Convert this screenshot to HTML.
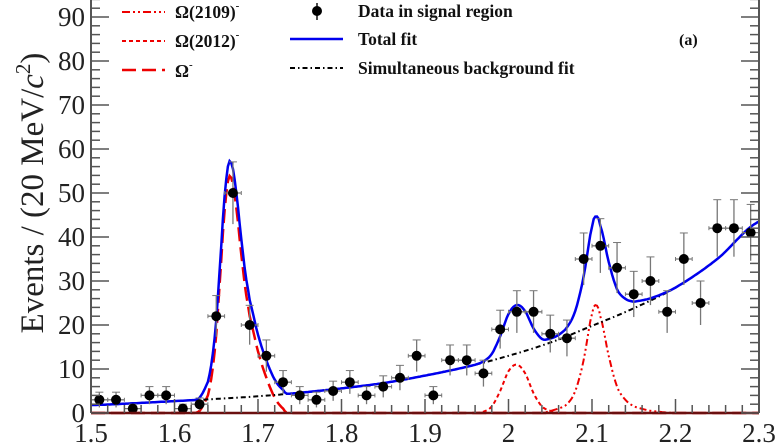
<!DOCTYPE html>
<html><head><meta charset="utf-8"><style>
body{margin:0;background:#fff}
svg{display:block;font-family:"Liberation Serif",serif}
</style></head><body>
<svg id="chart" width="784" height="443" viewBox="0 0 784 443">
<g id="plot"></g>
<g id="axes"></g>
<text transform="translate(43,193) rotate(-90)" text-anchor="middle" font-size="33" fill="#222">Events / (20 MeV/<tspan font-style="italic">c</tspan><tspan font-size="21" dy="-13">2</tspan><tspan dy="13">)</tspan></text>
<g font-size="17.5" font-weight="bold" fill="#111">
 <g><line x1="122" x2="165" y1="12" y2="12" stroke="#e00" stroke-width="2" stroke-dasharray="8,3,2,3,2,3"/><text x="175" y="18">Ω(2109)<tspan font-size="11" dy="-9">-</tspan></text></g>
 <g><line x1="122" x2="165" y1="41" y2="41" stroke="#e00" stroke-width="2" stroke-dasharray="4,3"/><text x="175" y="47">Ω(2012)<tspan font-size="11" dy="-9">-</tspan></text></g>
 <g><line x1="122" x2="165" y1="70" y2="70" stroke="#e00" stroke-width="2.5" stroke-dasharray="14,6"/><text x="175" y="77">Ω<tspan font-size="11" dy="-9">-</tspan></text></g>
 <g><line x1="317" x2="317" y1="3" y2="20" stroke="#111" stroke-width="1.5"/><circle cx="317" cy="11" r="5" fill="#000"/><text x="358" y="17">Data in signal region</text></g>
 <g><line x1="290" x2="343" y1="39" y2="39" stroke="#0000ee" stroke-width="2.5"/><text x="358" y="45">Total fit</text></g>
 <g><line x1="290" x2="343" y1="68" y2="68" stroke="#000" stroke-width="2" stroke-dasharray="5,3,1.5,3"/><text x="358" y="74">Simultaneous background fit</text></g>
 <text x="679" y="45" font-size="16">(a)</text>
</g>
</svg>
<script>
const binCenters=[1.51,1.53,1.55,1.57,1.59,1.61,1.63,1.65,1.67,1.69,1.71,1.73,1.75,1.77,1.79,1.81,1.83,1.85,1.87,1.89,1.91,1.93,1.95,1.97,1.99,2.01,2.03,2.05,2.07,2.09,2.11,2.13,2.15,2.17,2.19,2.21,2.23,2.25,2.27,2.29];
const counts=[3,3,1,4,4,1,2,22,50,20,13,7,4,3,5,7,4,6,8,13,4,12,12,9,19,23,23,18,17,35,38,33,27,30,23,35,25,42,42,41];
const bgX=[1.5,1.55,1.6,1.65,1.7,1.75,1.8,1.85,1.9,1.95,2.0,2.05,2.1,2.15,2.2,2.25,2.3];
const bgY=[1.8,2.2,2.7,3.2,3.8,4.6,5.6,6.8,8.5,10.5,13,16,19.8,23.8,28.5,35,43.5];
const omX=[1.62,1.63,1.64,1.645,1.65,1.655,1.66,1.665,1.67,1.675,1.68,1.685,1.69,1.70,1.71,1.72,1.73,1.735];
const omY=[0,0.5,4,9,18,32,46,53.5,52,45,36,28,22,14,8,3.5,1,0];
const o2012X=[1.96,1.97,1.98,1.99,2.0,2.01,2.02,2.03,2.04,2.05,2.06];
const o2012Y=[0,0.3,1.5,5,9.5,11,9,4.5,1.5,0.5,0];
const o2109X=[2.04,2.06,2.07,2.08,2.09,2.10,2.105,2.11,2.12,2.13,2.14,2.15,2.17,2.2];
const o2109Y=[0,1,2,5,12,22.5,24.5,22,13,6,3,1.5,0.5,0];
const xTicks=[1.5,1.6,1.7,1.8,1.9,2,2.1,2.2,2.3];
const yTicks=[0,10,20,30,40,50,60,70,80,90];

const X0=91,X1=759,Y0=413,YS=4.4;
const sx=v=>X0+(v-1.5)/0.8*(X1-X0);
const sy=v=>Y0-v*YS;
const NS='http://www.w3.org/2000/svg';
function mk(tag,attrs,parent){const e=document.createElementNS(NS,tag);for(const k in attrs)e.setAttribute(k,attrs[k]);parent.appendChild(e);return e;}
function interp(xs,ys,x){
  if(x<=xs[0])return ys[0]; if(x>=xs[xs.length-1])return ys[ys.length-1];
  let i=0;while(xs[i+1]<x)i++;
  const x0=xs[i],x1=xs[i+1],t=(x-x0)/(x1-x0);
  const p0=ys[Math.max(i-1,0)],p1=ys[i],p2=ys[i+1],p3=ys[Math.min(i+2,ys.length-1)];
  const m1=(p2-p0)/2,m2=(p3-p1)/2;
  const t2=t*t,t3=t2*t;
  return (2*t3-3*t2+1)*p1+(t3-2*t2+t)*m1+(-2*t3+3*t2)*p2+(t3-t2)*m2;
}
function comp(xs,ys,x){if(x<xs[0]||x>xs[xs.length-1])return 0;return Math.max(0,interp(xs,ys,x));}
function pathFrom(f,a,b){let d='';for(let x=a;x<=b+1e-9;x+=0.002){d+=(d?'L':'M')+sx(x).toFixed(1)+','+sy(f(x)).toFixed(1);}return d;}
const plot=document.getElementById('plot'),axes=document.getElementById('axes');

let el;
el=mk('path',{d:pathFrom(x=>comp(o2109X,o2109Y,x),1.5,2.3),fill:'none',stroke:'#e00','stroke-width':2,'stroke-dasharray':'7,3,2,3,2,3'},plot);

el=mk('path',{d:pathFrom(x=>comp(o2012X,o2012Y,x),1.5,2.3),fill:'none',stroke:'#e00','stroke-width':2,'stroke-dasharray':'4,3'},plot);

el=mk('path',{d:pathFrom(x=>comp(omX,omY,x),1.5,2.3),fill:'none',stroke:'#e00','stroke-width':2.5,'stroke-dasharray':'14,6'},plot);

el=mk('path',{d:pathFrom(x=>interp(bgX,bgY,x),1.5,2.3),fill:'none',stroke:'#000','stroke-width':2,'stroke-dasharray':'5,3,1.5,3'},plot);

el=mk('path',{d:pathFrom(x=>interp(bgX,bgY,x)+comp(omX,omY,x)+comp(o2012X,o2012Y,x)+comp(o2109X,o2109Y,x),1.5,2.3),fill:'none',stroke:'#0000ee','stroke-width':2.5},plot);


binCenters.forEach((c,i)=>{
  const n=counts[i],e=Math.sqrt(Math.max(n,1));
  const g=mk('g',{},plot);
  
  
  const lo=Math.max(0,n-e),hi=n+e;
  mk('line',{x1:sx(c),x2:sx(c),y1:sy(lo),y2:sy(hi),stroke:'#777','stroke-width':1.3},g);
  mk('line',{x1:sx(c)-4,x2:sx(c)+4,y1:sy(hi),y2:sy(hi),stroke:'#777','stroke-width':1},g);
  mk('line',{x1:sx(c-0.01),x2:sx(c+0.01),y1:sy(n),y2:sy(n),stroke:'#777','stroke-width':1.3},g);
  mk('line',{x1:sx(c-0.01),x2:sx(c-0.01),y1:sy(n)-2,y2:sy(n)+2,stroke:'#777','stroke-width':1},g);
  mk('line',{x1:sx(c+0.01),x2:sx(c+0.01),y1:sy(n)-2,y2:sy(n)+2,stroke:'#777','stroke-width':1},g);
  mk('circle',{cx:sx(c),cy:sy(n),r:5,fill:'#000'},g);
});

el=mk('line',{x1:X0,x2:X0,y1:0,y2:Y0,stroke:'#555','stroke-width':2},axes);

el=mk('line',{x1:X1,x2:X1,y1:0,y2:Y0,stroke:'#555','stroke-width':2},axes);

el=mk('line',{x1:X0,x2:X1,y1:Y0,y2:Y0,stroke:'#6a1010','stroke-width':2.5},axes);

for(let v=0;v<=94;v+=2){
  const maj=v%10===0,L=maj?18:9;
  mk('line',{x1:X0,x2:X0+L,y1:sy(v),y2:sy(v),stroke:'#555','stroke-width':1.5},axes);
  mk('line',{x1:X1,x2:X1-L,y1:sy(v),y2:sy(v),stroke:'#555','stroke-width':1.5},axes);
}
yTicks.forEach(v=>{
  el=mk('text',{x:85,y:sy(v)+9,'text-anchor':'end','font-size':27,fill:'#222'},axes);
  el.textContent=v;
  
});
for(let k=0;k<=40;k++){
  const v=1.5+k*0.02,maj=k%5===0,L=maj?14:8;
  mk('line',{x1:sx(v),x2:sx(v),y1:Y0,y2:Y0-L,stroke:'#555','stroke-width':1.5},axes);
}
xTicks.forEach(v=>{
  el=mk('text',{x:sx(v),y:442,'text-anchor':'middle','font-size':27,fill:'#222'},axes);
  el.textContent=String(v);
  
});
</script>
</body></html>
